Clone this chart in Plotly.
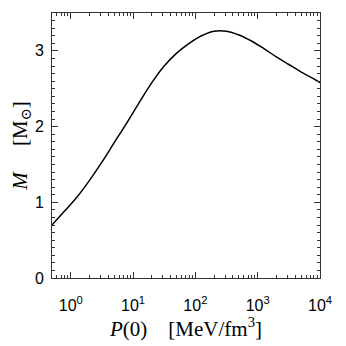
import numpy as np
import plotly.graph_objects as go

# central pressure P(0) [MeV/fm^3] and stellar mass M [M_sun]
pression = [0.5, 0.79, 1.26, 2.0, 3.16, 5.01, 7.94, 12.6, 20.0, 31.6, 50.1, 79.4,
            126, 200, 316, 501, 794, 1259, 1995, 3162, 5012, 7943, 10000]
masse = [0.70, 0.88, 1.07, 1.29, 1.53, 1.79, 2.05, 2.32, 2.58, 2.80, 2.97, 3.10,
         3.20, 3.26, 3.26, 3.21, 3.13, 3.03, 2.92, 2.82, 2.72, 2.63, 2.58]

x_ticks = [1, 10, 100, 1000, 10000]
x_labels = ["10<sup>0</sup>", "10<sup>1</sup>", "10<sup>2</sup>", "10<sup>3</sup>", "10<sup>4</sup>"]
y_ticks = [0, 1, 2, 3]

minor_x = [0.5, 0.6, 0.7, 0.8, 0.9] + [m * 10.0 ** e for e in range(0, 4) for m in range(2, 10)]

fig = go.Figure()
fig.add_trace(go.Scatter(x=pression, y=masse, mode="lines",
                         line=dict(color="black", width=1.5, shape="spline", smoothing=1),
                         showlegend=False))

axe = dict(showline=True, linecolor="#333", linewidth=1, mirror="ticks", ticks="inside",
           tickcolor="#333", showgrid=False, zeroline=False, automargin=False,
           tickfont=dict(family="Liberation Sans, Arial", size=16, color="black"))

fig.update_xaxes(type="log", range=[np.log10(0.5), 4], tickvals=x_ticks, ticktext=x_labels, ticklen=6,
                 ticklabelstandoff=13,
                 minor=dict(tickvals=minor_x, ticks="inside", ticklen=3, tickcolor="#333"),
                 title=dict(text="<i>P</i>(0)&nbsp;&nbsp;&nbsp;&nbsp;[MeV/fm<sup>3</sup>]", standoff=3,
                            font=dict(family="Liberation Serif, DejaVu Serif", size=21, color="black")),
                 **axe)
fig.update_yaxes(range=[0, 3.5], tickvals=y_ticks, ticklen=6, ticklabelstandoff=4,
                 minor=dict(dtick=0.1, ticks="inside", ticklen=3, tickcolor="#333"),
                 title=dict(text="<i>M</i>&nbsp;&nbsp;&nbsp;&nbsp;&nbsp;[M<sub>⊙</sub>]", standoff=1,
                            font=dict(family="Liberation Serif, DejaVu Serif", size=21, color="black")),
                 **axe)
# la page HTML ajoute 8 px de marge autour du graphique
fig.update_layout(width=338, height=338, margin=dict(l=44, r=26, t=5, b=68),
                  plot_bgcolor="white", paper_bgcolor="white")

fig.write_html("out.html")
